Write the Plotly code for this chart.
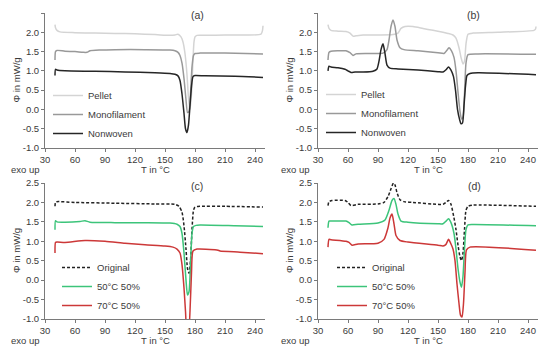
import plotly.graph_objects as go

# ---------------- data ----------------
# Panel (a)
a_pellet_T = [40, 40.5, 42, 45, 60, 80, 100, 120, 140, 155, 160, 163, 166, 168, 170, 172, 173.5, 175, 176.5, 178, 179, 180, 182, 190, 210, 230, 246, 247.5, 248]
a_pellet_P = [2.2, 2.12, 2.05, 2.01, 1.99, 1.98, 1.97, 1.96, 1.94, 1.92, 1.93, 1.95, 1.88, 1.75, 1.45, 0.9, 0.3, 0.0, 0.4, 1.3, 1.75, 1.88, 1.92, 1.92, 1.93, 1.93, 1.95, 2.05, 2.17]
a_mono_T = [40, 40.5, 42, 50, 60, 68, 72, 75, 85, 100, 130, 155, 160, 163, 165, 167, 169, 171, 172.5, 174, 175.5, 177, 178.5, 180, 185, 210, 248]
a_mono_P = [1.28, 1.5, 1.53, 1.51, 1.5, 1.48, 1.48, 1.52, 1.54, 1.55, 1.55, 1.54, 1.52, 1.48, 1.4, 1.2, 0.8, 0.25, -0.08, -0.05, 0.4, 1.1, 1.4, 1.45, 1.46, 1.46, 1.44]
a_non_T = [40, 40.5, 42, 50, 80, 110, 140, 155, 160, 163, 165, 167, 169, 170.5, 172, 173.5, 175, 176.5, 178, 180, 190, 220, 248]
a_non_P = [0.88, 1.04, 1.02, 1.0, 0.99, 0.97, 0.95, 0.93, 0.91, 0.87, 0.75, 0.4, -0.1, -0.5, -0.6, -0.4, 0.1, 0.6, 0.85, 0.88, 0.87, 0.86, 0.83]

# Panel (b)
b_pellet_T = [40, 41, 43, 50, 58, 62, 65, 68, 75, 90, 105, 110, 113, 117, 125, 135, 145, 155, 160, 165, 168, 171, 173, 175, 176.5, 178, 180, 185, 210, 246, 247.5, 248]
b_pellet_P = [2.2, 2.1, 2.05, 2.03, 2.02, 1.98, 1.9, 1.91, 1.93, 1.93, 1.94, 1.98, 2.1, 2.15, 2.15, 2.1, 2.05, 2.0, 1.97, 1.93, 1.85, 1.6, 1.35, 1.18, 1.25, 1.7, 1.95, 1.98, 2.0, 2.05, 2.08, 2.15]
b_mono_T = [40, 41, 43, 50, 58, 62, 65, 68, 80, 95, 99, 101, 103, 105, 107, 109, 112, 116, 130, 150, 156, 158.5, 161, 163.5, 166, 168, 170, 172, 173.5, 175, 176.5, 178, 180, 190, 248]
b_mono_P = [1.28, 1.48, 1.51, 1.52, 1.52, 1.47, 1.4, 1.44, 1.45, 1.46, 1.55, 1.8, 2.15, 2.32, 2.15, 1.8, 1.6, 1.55, 1.52, 1.47, 1.45, 1.52, 1.6, 1.52, 1.35, 1.0, 0.45, -0.05, -0.25, -0.2, 0.4, 1.2, 1.42, 1.44, 1.43]
b_non_T = [40, 41, 43, 50, 57, 60, 63, 67, 75, 85, 89, 91, 93, 95, 97, 99, 102, 110, 130, 150, 155, 158, 160.5, 163, 165.5, 167.5, 169.5, 171.5, 173, 174.5, 176, 177.5, 179, 182, 190, 248]
b_non_P = [1.0, 1.12, 1.1, 1.08, 1.04, 1.0, 0.96, 0.97, 0.97, 0.99, 1.05, 1.25, 1.55, 1.7, 1.45, 1.15, 1.07, 1.05, 1.02, 0.98, 0.97, 1.03, 1.1, 1.02, 0.85, 0.5, 0.0, -0.25, -0.37, -0.35, 0.1, 0.6, 0.88, 0.93, 0.95, 0.9]

# Panel (c)
c_orig_T = [40, 40.5, 42, 60, 100, 140, 160, 164, 167, 169, 171, 172.5, 174, 175.5, 177, 178.5, 180, 185, 210, 248]
c_orig_P = [1.9, 2.0, 2.02, 2.0, 1.98, 1.96, 1.95, 1.9, 1.75, 1.4, 0.8, 0.3, 0.18, 0.5, 1.3, 1.8, 1.88, 1.9, 1.9, 1.88]
c_50_T = [40, 40.5, 42, 50, 65, 70, 75, 100, 130, 155, 162, 165, 167, 169, 171, 172.5, 174, 175.5, 177, 178.5, 181, 185, 220, 248]
c_50_P = [1.3, 1.53, 1.5, 1.49, 1.51, 1.53, 1.49, 1.48, 1.48, 1.47, 1.44, 1.38, 1.2, 0.7, 0.0, -0.38, -0.3, 0.4, 1.2, 1.38, 1.41, 1.42, 1.4, 1.38]
c_70_T = [40, 40.5, 42, 50, 70, 90, 110, 130, 150, 158, 162, 165, 167, 169, 170.5, 172, 173.5, 175, 176.5, 178, 182, 200, 203, 205, 225, 248]
c_70_P = [0.7, 0.97, 0.98, 0.97, 1.02, 1.0, 0.95, 0.91, 0.88, 0.85, 0.8, 0.7, 0.4, -0.2, -0.8, -1.3, -1.3, -0.8, 0.2, 0.75, 0.8, 0.78, 0.77, 0.75, 0.72, 0.68]

# Panel (d)
d_orig_T = [40, 41, 44, 57, 60, 63, 70, 90, 96, 100, 103, 105.5, 107, 109, 112, 116, 125, 150, 155, 158, 160.5, 163, 166, 168, 170, 172, 173.5, 175, 176.5, 178, 180, 185, 248]
d_orig_P = [1.92, 2.02, 2.05, 2.05, 2.0, 1.92, 1.95, 1.96, 2.0, 2.15, 2.35, 2.5, 2.45, 2.25, 2.07, 2.02, 2.0, 1.95, 1.95, 2.0, 2.05, 1.95, 1.6, 1.3, 0.9, 0.6, 0.5, 0.7, 1.3, 1.8, 1.9, 1.93, 1.9]
d_50_T = [40, 41, 43, 58, 61, 64, 70, 90, 97, 101, 104, 106, 108, 110, 113, 120, 150, 155, 158, 160.5, 163, 166, 168, 170, 172, 173.5, 175, 176.5, 178, 180, 185, 248]
d_50_P = [1.35, 1.52, 1.52, 1.52, 1.48, 1.42, 1.44, 1.47, 1.55, 1.8, 2.05, 2.1, 1.95, 1.7, 1.52, 1.49, 1.45, 1.45, 1.52, 1.58, 1.48, 1.2, 0.8, 0.3, -0.05, -0.18, 0.1, 0.8, 1.3, 1.42, 1.43, 1.4]
d_70_T = [40, 41, 43, 58, 61, 64, 70, 90, 96, 100, 102, 104, 106, 108, 112, 120, 150, 155, 158, 160.5, 163, 165, 167, 169, 171, 172.5, 174, 175.5, 177, 178.5, 182, 248]
d_70_P = [0.85, 1.05, 1.04, 1.0, 0.97, 0.9, 0.93, 0.95, 1.05, 1.35, 1.6, 1.7, 1.45, 1.15, 1.02, 0.98, 0.9, 0.88, 0.92, 1.05, 0.93, 0.8, 0.5, -0.1, -0.6, -0.9, -0.95, -0.6, 0.2, 0.78, 0.85, 0.77]

panel_labels = ["(a)", "(b)", "(c)", "(d)"]
x_ticks = [30, 60, 90, 120, 150, 180, 210, 240]
y_ticks = [-1.0, -0.5, 0.0, 0.5, 1.0, 1.5, 2.0, 2.5]

# ---------------- styling ----------------
OFF = 8                      # default page body margin
W, H = 550 - OFF, 353 - OFF
FONT = "Liberation Sans, Arial, sans-serif"
TXT = "#3a3a3a"
AXC = "#7a7a7a"
C_PEL, C_MON, C_NON = "#d4d4d4", "#999999", "#262626"
C_ORIG, C_50, C_70 = "#222222", "#3cc47a", "#cc3838"
FS = 9.5


def fx(px):
    return (px - OFF) / W


def fy(py):
    return 1 - (py - OFF) / H


# page-pixel geometry of panels: (left, right, top, bottom)
panels = [(45, 265, 13, 148), (318, 538, 13, 148), (45, 265, 183, 319), (318, 538, 183, 319)]
label_pos = [(197, 15), (473, 15), (197, 186), (474, 186)]
leg_pos = [(48, 81), (321, 80), (57, 253), (332, 253)]
exo_left = [9, 279, 9, 279]

fig = go.Figure()

series = [
    (1, "Pellet", a_pellet_T, a_pellet_P, C_PEL, "solid", "legend"),
    (1, "Monofilament", a_mono_T, a_mono_P, C_MON, "solid", "legend"),
    (1, "Nonwoven", a_non_T, a_non_P, C_NON, "solid", "legend"),
    (2, "Pellet", b_pellet_T, b_pellet_P, C_PEL, "solid", "legend2"),
    (2, "Monofilament", b_mono_T, b_mono_P, C_MON, "solid", "legend2"),
    (2, "Nonwoven", b_non_T, b_non_P, C_NON, "solid", "legend2"),
    (3, "Original", c_orig_T, c_orig_P, C_ORIG, "3px,2px", "legend3"),
    (3, "50°C 50%", c_50_T, c_50_P, C_50, "solid", "legend3"),
    (3, "70°C 50%", c_70_T, c_70_P, C_70, "solid", "legend3"),
    (4, "Original", d_orig_T, d_orig_P, C_ORIG, "3px,2px", "legend4"),
    (4, "50°C 50%", d_50_T, d_50_P, C_50, "solid", "legend4"),
    (4, "70°C 50%", d_70_T, d_70_P, C_70, "solid", "legend4"),
]
for idx, name, T, P, col, dash, leg in series:
    sfx = "" if idx == 1 else str(idx)
    fig.add_trace(go.Scatter(
        x=T, y=P, mode="lines", name=name,
        line=dict(color=col, width=1.5, dash=dash, shape="spline", smoothing=0.6),
        xaxis="x" + sfx, yaxis="y" + sfx, legend=leg,
    ))

layout = dict(
    template="none",
    width=W, height=H, margin=dict(l=0, r=0, t=0, b=0, autoexpand=False),
    paper_bgcolor="white", plot_bgcolor="white",
    font=dict(family=FONT, size=FS, color=TXT),
    annotations=[],
)


def ann(text, x, y, xanchor="center", **kw):
    return dict(text=text, x=x, y=y, xref="paper", yref="paper", showarrow=False,
                xanchor=xanchor, yanchor="middle", font=dict(size=FS, color=TXT), **kw)


for i, (l, r, t, b) in enumerate(panels):
    sfx = "" if i == 0 else str(i + 1)
    layout["xaxis" + sfx] = dict(
        domain=[fx(l), fx(r)], range=[30, 250], anchor="y" + sfx, automargin=False,
        tickvals=x_ticks, ticks="outside", ticklen=3, tickcolor=AXC, tickwidth=1,
        showline=True, linecolor=AXC, linewidth=1, showgrid=False, zeroline=False,
        tickfont=dict(size=FS, color=TXT),
    )
    layout["yaxis" + sfx] = dict(
        domain=[fy(b), fy(t)], range=[-1.0, 2.5], anchor="x" + sfx, automargin=False,
        tickvals=y_ticks, ticktext=["%.1f" % v for v in y_ticks],
        ticks="outside", ticklen=3, tickcolor=AXC, tickwidth=1,
        showline=True, linecolor=AXC, linewidth=1, showgrid=False, zeroline=False,
        tickfont=dict(size=FS, color=TXT),
    )
    anns = layout["annotations"]
    lx, ly = label_pos[i]
    a = ann(panel_labels[i], fx(lx), fy(ly))
    a["font"] = dict(size=10.5, color=TXT)
    anns.append(a)
    anns.append(ann("exo up", fx(exo_left[i]), fy(b + 21), xanchor="left"))
    anns.append(ann("T in °C", fx((l + r) / 2), fy(b + 21)))
    anns.append(ann("Φ in mW/g", fx(l - 29), fy((t + b) / 2), textangle=-90))

leg_common = dict(bgcolor="rgba(0,0,0,0)", borderwidth=0, itemwidth=30,
                  font=dict(size=FS, color=TXT), xanchor="left", yanchor="top",
                  tracegroupgap=0, traceorder="normal")
for i, (lx, ly) in enumerate(leg_pos):
    key = "legend" if i == 0 else "legend%d" % (i + 1)
    layout[key] = dict(leg_common, x=fx(lx), y=fy(ly))

fig.update_layout(**layout)
fig.write_html("out.html")
